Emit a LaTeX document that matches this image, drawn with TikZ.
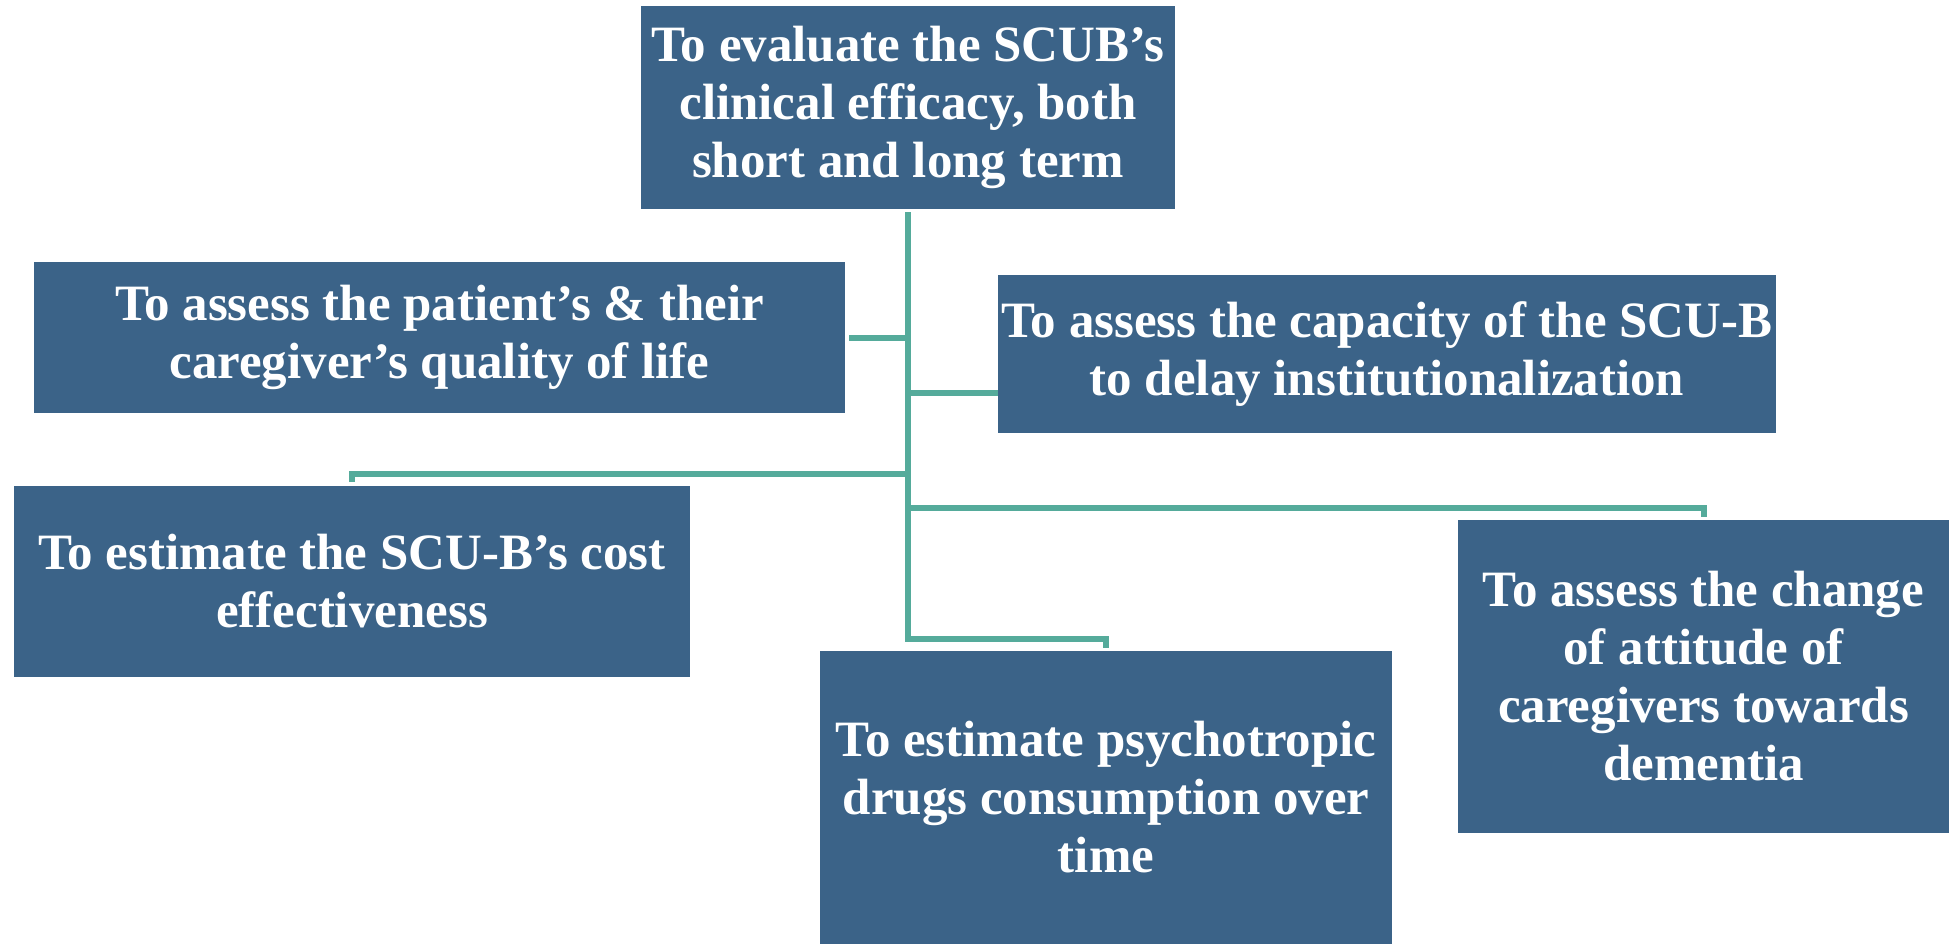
\documentclass[tikz,border=0pt]{standalone}
\usepackage{fontspec}
\setmainfont{Liberation Serif}
\definecolor{boxblue}{RGB}{59,99,136}
\definecolor{linkteal}{RGB}{85,171,155}
\tikzset{
  goal/.style={rectangle, fill=boxblue, text=white, align=center, inner sep=0pt,
    font=\fontsize{29}{33}\selectfont\bfseries},
  conn/.style={draw=linkteal, line width=0.12cm}
}
\begin{document}
\begin{tikzpicture}[x=0.02cm,y=-0.02cm]
\useasboundingbox (0,0) rectangle (1949,944);

% objective boxes
\node[goal, minimum width=10.68cm, minimum height=4.06cm] (top) at (908,107.5)
  {To evaluate the SCUB’s\\clinical efficacy, both\\short and long term};
\node[goal, minimum width=16.22cm, minimum height=3.02cm] (life) at (439.5,337.5)
  {To assess the patient’s \& their\\caregiver’s quality of life};
\node[goal, minimum width=15.56cm, minimum height=3.16cm] (delay) at (1387,354)
  {To assess the capacity of the SCU-B\\to delay institutionalization};
\node[goal, minimum width=13.52cm, minimum height=3.82cm] (cost) at (352,581.5)
  {To estimate the SCU-B’s cost\\effectiveness};
\node[goal, minimum width=11.44cm, minimum height=5.86cm] (drugs) at (1106,797.5)
  {To estimate psychotropic\\drugs consumption over\\time};
\node[goal, minimum width=9.82cm, minimum height=6.26cm] (attitude) at (1703.5,676.5)
  {To assess the change\\of attitude of\\caregivers towards\\dementia};

% junctions on the trunk
\coordinate (jdelay) at (908,393);
\coordinate (jcost) at (908,474);
\coordinate (jatt) at (908,508);
\coordinate (jdrugs) at (908,639);

% connectors
\draw[conn, shorten <=0.06cm, shorten >=0.06cm] (top.south) -- (jdrugs) -| (drugs.north);
\draw[conn, shorten <=0.08cm] (life.east) -- (life.east -| top.south);
\draw[conn] (jdelay) -- (jdelay -| delay.west);
\draw[conn, shorten >=0.08cm] (jcost) -| (cost.north);
\draw[conn, shorten >=0.06cm] (jatt) -| (attitude.north);
\end{tikzpicture}
\end{document}
